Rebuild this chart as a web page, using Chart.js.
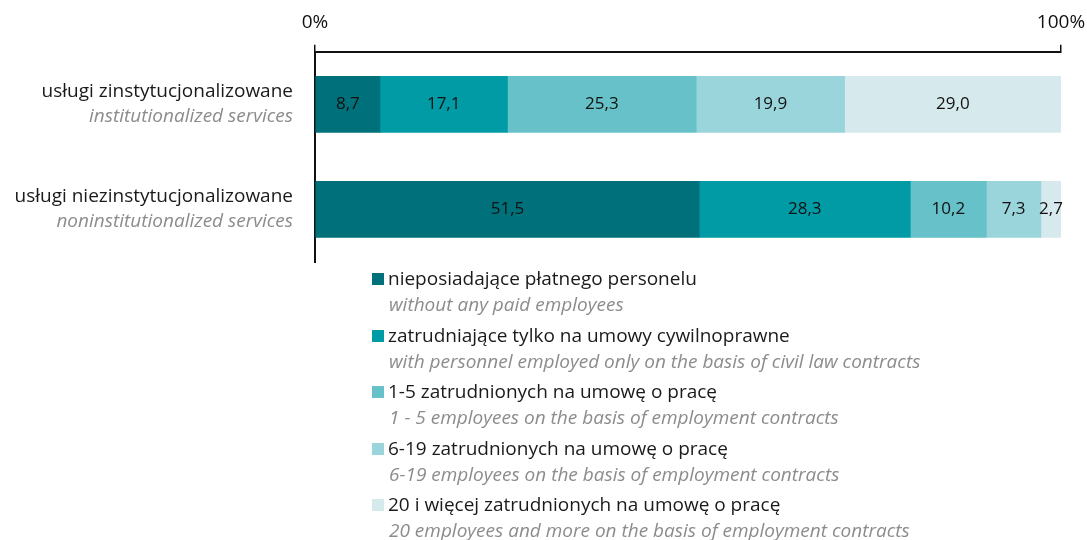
<!DOCTYPE html>
<html>
<head>
<meta charset="utf-8">
<script src="https://cdn.jsdelivr.net/npm/chart.js@4"></script>
<style>
  html, body { margin: 0; padding: 0; background: #fff; }
  body { width: 1087px; height: 540px; position: relative; overflow: hidden; font-family: "Open Sans", sans-serif; }
  #wrap { position: absolute; left: 0; top: 0; width: 1087px; height: 270px; }
  #legend { position: absolute; left: 372px; top: 265px; }
  .item { height: 56.5px; }
  .pl { font-size: 19px; color: #1a1a1a; line-height: 27px; white-space: nowrap; }
  .en { font-size: 19px; color: #8c8c8c; font-style: italic; line-height: 24px; padding-left: 17px; white-space: nowrap; }
  .sw { display: inline-block; width: 12px; height: 12px; margin-right: 4px; vertical-align: 0px; }
</style>
</head>
<body>
<div id="wrap"><canvas id="chart"></canvas></div>
<div id="legend"></div>
<script>
// categories (Polish + English line)
const categoriesPl = ["usługi zinstytucjonalizowane", "usługi niezinstytucjonalizowane"];
const categoriesEn = ["institutionalized services", "noninstitutionalized services"];

// series
const seriesPl = [
  "nieposiadające płatnego personelu",
  "zatrudniające tylko na umowy cywilnoprawne",
  "1-5 zatrudnionych na umowę o pracę",
  "6-19 zatrudnionych na umowę o pracę",
  "20 i więcej zatrudnionych na umowę o pracę",
];
const seriesEn = [
  "without any paid employees",
  "with personnel employed only on the basis of civil law contracts",
  "1 - 5 employees on the basis of employment contracts",
  "6-19 employees on the basis of employment contracts",
  "20 employees and more on the  basis of employment contracts",
];
const seriesColors = ["#00717a", "#009ba5", "#66c2c8", "#9bd5dc", "#d6e9ec"];

// values per series: [institutionalized, noninstitutionalized]
const noPaid = [8.7, 51.5];
const civilOnly = [17.1, 28.3];
const emp1to5 = [25.3, 10.2];
const emp6to19 = [19.9, 7.3];
const emp20plus = [29.0, 2.7];
const seriesValues = [noPaid, civilOnly, emp1to5, emp6to19, emp20plus];

const xTicks = [0, 100];

const fmt = v => v.toFixed(1).replace(".", ",");

// category labels on the left, two lines each
const catLabels = {
  id: "catLabels",
  afterDraw(chart) {
    const { ctx, scales: { y } } = chart;
    ctx.save();
    ctx.textAlign = "right";
    ctx.textBaseline = "middle";
    categoriesPl.forEach((c, i) => {
      const yc = y.getPixelForValue(i);
      ctx.fillStyle = "#1a1a1a";
      ctx.font = "19px 'Open Sans'";
      ctx.fillText(c, 293, yc - 13);
      ctx.fillStyle = "#8c8c8c";
      ctx.font = "italic 19px 'Open Sans'";
      ctx.fillText(categoriesEn[i], 293, yc + 12);
    });
    ctx.restore();
  },
};

// value labels inside bars
const valueLabels = {
  id: "valueLabels",
  afterDatasetsDraw(chart) {
    const { ctx } = chart;
    ctx.save();
    ctx.font = "17px 'Open Sans'";
    ctx.fillStyle = "#111";
    ctx.textAlign = "center";
    ctx.textBaseline = "middle";
    chart.data.datasets.forEach((ds, di) => {
      chart.getDatasetMeta(di).data.forEach((bar, i) => {
        const x = (bar.x + bar.base) / 2;
        ctx.fillText(fmt(ds.data[i]), x, bar.y);
      });
    });
    ctx.restore();
  },
};

new Chart(document.getElementById("chart"), {
  type: "bar",
  data: {
    labels: categoriesPl,
    datasets: seriesValues.map((vals, i) => ({
      label: seriesPl[i],
      data: vals,
      backgroundColor: seriesColors[i],
      borderWidth: 0,
      barThickness: 56,
    })),
  },
  options: {
    indexAxis: "y",
    responsive: true,
    maintainAspectRatio: false,
    animation: false,
    layout: { padding: { left: 315, right: 26, top: 0, bottom: 8 } },
    plugins: { legend: { display: false }, tooltip: { enabled: false } },
    scales: {
      x: {
        position: "top",
        stacked: true,
        min: 0,
        max: 100,
        afterBuildTicks: (axis) => { axis.ticks = xTicks.map(v => ({ value: v })); },
        afterFit: (axis) => { axis.paddingLeft = 0; axis.paddingRight = 0; },
        ticks: {
          color: "#111",
          font: { family: "'Open Sans'", size: 19 },
          padding: 11,
          maxRotation: 0,
          callback: (v) => v + "%",
        },
        grid: { drawOnChartArea: false, tickLength: 7, color: "#111", lineWidth: 1.5 },
        border: { display: true, color: "#111", width: 2 },
      },
      y: {
        stacked: true,
        afterFit: (axis) => { axis.width = 0; },
        ticks: { display: false },
        grid: { display: false },
        border: { display: true, color: "#111", width: 2 },
      },
    },
  },
  plugins: [catLabels, valueLabels],
});

// legend built from the series arrays
document.getElementById("legend").innerHTML = seriesPl.map((s, i) =>
  `<div class="item"><div class="pl"><span class="sw" style="background:${seriesColors[i]}"></span>${s}</div>` +
  `<div class="en">${seriesEn[i]}</div></div>`
).join("");
</script>
</body>
</html>
